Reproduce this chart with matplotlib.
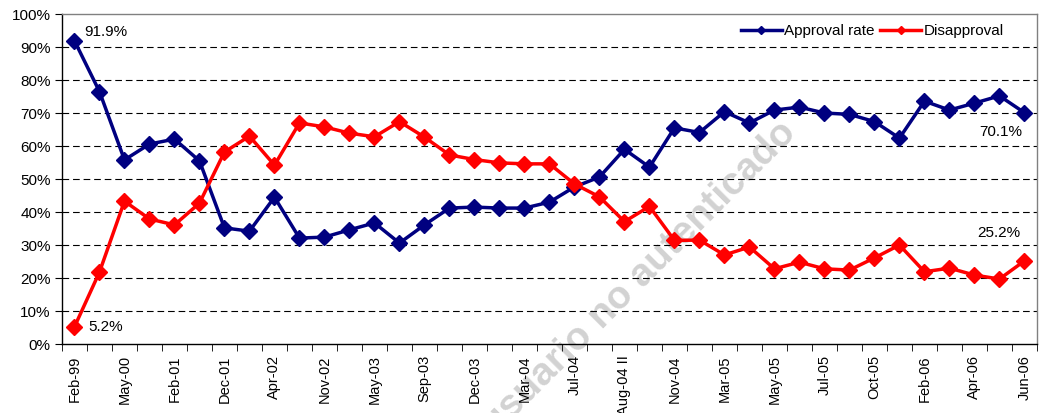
import numpy as np
import matplotlib.pyplot as plt

plt.rcParams['font.family'] = ['Liberation Sans', 'DejaVu Sans']

# Survey waves (every other one is labelled on the axis)
labels = ["Feb-99", "", "May-00", "", "Feb-01", "", "Dec-01", "", "Apr-02", "",
          "Nov-02", "", "May-03", "", "Sep-03", "", "Dec-03", "", "Mar-04", "",
          "Jul-04", "", "Aug-04 II", "", "Nov-04", "", "Mar-05", "", "May-05", "",
          "Jul-05", "", "Oct-05", "", "Feb-06", "", "Apr-06", "", "Jun-06"]

approval = [91.9, 76.5, 55.8, 60.6, 62.1, 55.5, 35.2, 34.2, 44.5, 32.1,
            32.4, 34.6, 36.7, 30.6, 36.1, 41.2, 41.5, 41.2, 41.2, 43.0,
            47.6, 50.6, 59.0, 53.6, 65.5, 64.1, 70.4, 67.0, 70.9, 71.8,
            70.0, 69.6, 67.4, 62.4, 73.6, 70.9, 73.0, 75.2, 70.1]

disapproval = [5.2, 21.8, 43.3, 37.9, 36.1, 42.7, 58.2, 63.0, 54.2, 67.0,
               65.8, 63.9, 62.8, 67.4, 62.7, 57.3, 55.9, 54.9, 54.6, 54.6,
               48.5, 44.6, 37.1, 41.7, 31.4, 31.5, 27.0, 29.4, 22.8, 24.8,
               22.8, 22.4, 26.1, 30.0, 21.9, 23.0, 20.9, 19.7, 25.2]

x = np.arange(len(approval))

fig = plt.figure(figsize=(10.45, 4.13), dpi=100)
ax = fig.add_axes([0.0593, 0.167, 0.933, 0.799])
ax.patch.set_alpha(0)

# watermark (cut by the bottom edge, as in the source)
fig.text(0.612, 0.325, "usuario no autenticado", rotation=45, fontsize=28,
         fontweight='bold', color='#d2d2d2', ha='center', va='center', zorder=-1)

ax.plot(x, approval, color='#000080', lw=2.5, marker='D', ms=8, label="Approval rate", zorder=3)
ax.plot(x, disapproval, color='#ff0000', lw=2.5, marker='D', ms=8, label="Disapproval", zorder=3)

# value labels at both ends
ax.annotate("91.9%", (x[0], approval[0]), xytext=(10, 9), textcoords='offset pixels',
            ha='left', va='center', fontsize=11)
ax.annotate("5.2%", (x[0], disapproval[0]), xytext=(14, 0), textcoords='offset pixels',
            ha='left', va='center', fontsize=11)
ax.annotate("70.1%", (x[-1], approval[-1]), xytext=(-2, -19), textcoords='offset pixels',
            ha='right', va='center', fontsize=11)
ax.annotate("25.2%", (x[-1], disapproval[-1]), xytext=(-4, 28), textcoords='offset pixels',
            ha='right', va='center', fontsize=11)

# axes
ax.set_xlim(-0.5, len(x) - 0.5)
ax.set_ylim(0, 100)
ax.set_yticks(np.arange(0, 101, 10))
ax.set_yticklabels([f"{v}%" for v in range(0, 101, 10)], fontsize=11)
ax.set_xticks(x[::2])
ax.set_xticklabels(labels[::2], rotation=90, fontsize=10.5)
ax.set_xticks(np.arange(-0.5, len(x)), minor=True)
ax.tick_params(axis='x', which='major', length=0, pad=8)
ax.tick_params(axis='x', which='minor', length=5, direction='out', color='black')
ax.tick_params(axis='y', length=5, direction='out', pad=3)

for yv in range(10, 100, 10):
    ax.axhline(yv, color='black', lw=0.8, dashes=(6, 3.5), zorder=1)

ax.spines['left'].set_color('black')
ax.spines['bottom'].set_color('black')
ax.spines['top'].set_color('#808080')
ax.spines['right'].set_color('#808080')
for s in ax.spines.values():
    s.set_linewidth(1.0)

leg = ax.legend(loc='upper right', ncol=2, frameon=False, fontsize=11,
                handlelength=2.7, handletextpad=0.15, columnspacing=0.35,
                markerscale=0.55, bbox_to_anchor=(0.98, 1.01))

fig.savefig("out.png", dpi=100)
